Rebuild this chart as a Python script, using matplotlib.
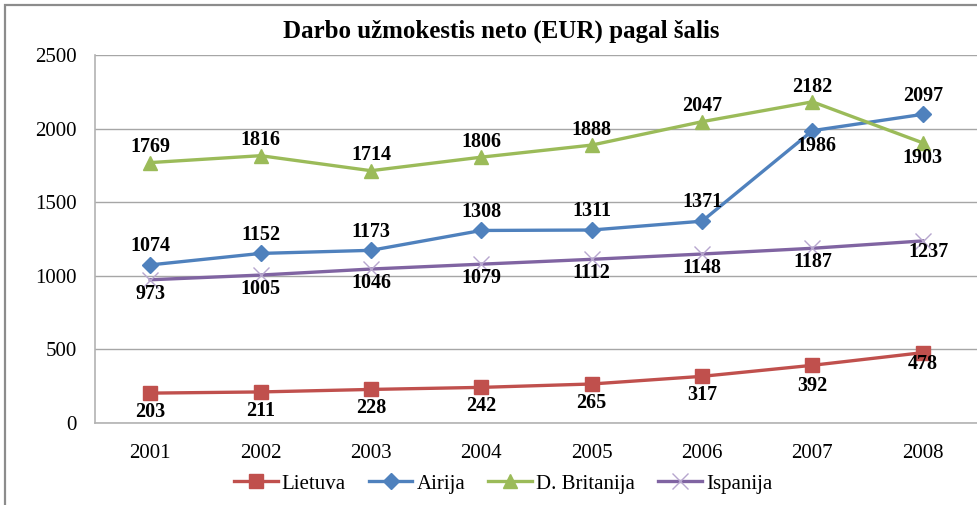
import matplotlib
matplotlib.use("Agg")
import matplotlib.pyplot as plt
from matplotlib.patches import Rectangle

plt.rcParams['font.family'] = ['Liberation Serif', 'DejaVu Serif']

years = ['2001', '2002', '2003', '2004', '2005', '2006', '2007', '2008']
lietuva = [203, 211, 228, 242, 265, 317, 392, 478]
airija = [1074, 1152, 1173, 1308, 1311, 1371, 1986, 2097]
britanija = [1769, 1816, 1714, 1806, 1888, 2047, 2182, 1903]
ispanija = [973, 1005, 1046, 1079, 1112, 1148, 1187, 1237]
series_names = ['Lietuva', 'Airija', 'D. Britanija', 'Ispanija']
y_ticks = [0, 500, 1000, 1500, 2000, 2500]

W, H = 978, 505
fig = plt.figure(figsize=(W / 100, H / 100), dpi=100)

# outer chart frame
fig.patches.append(Rectangle((5 / W, -0.1), 1.2, 1.1 - 5 / H,
                             transform=fig.transFigure, fill=False,
                             edgecolor='#8c8c8c', linewidth=1.6, zorder=0))

ax = fig.add_axes([95 / W, 1 - 423 / H, (W - 95) / W, (423 - 55) / H])
x = list(range(len(years)))

styles = [
    dict(color='#C0504D', marker='s', markersize=10, mfc='#C0504D', mec='#C0504D'),
    dict(color='#4F81BD', marker='D', markersize=8, mfc='#4F81BD', mec='#4F81BD'),
    dict(color='#9BBB59', marker='^', markersize=10, mfc='#9BBB59', mec='#9BBB59'),
    dict(color='#8064A2', marker='x', markersize=11, mfc='none', mec='#B7A6CE', mew=1.0),
]
data = [lietuva, airija, britanija, ispanija]

for vals, name, st in zip(data, series_names, styles):
    ax.plot(x, vals, label=name, linewidth=2.4, zorder=3, clip_on=False, **st)

# data labels: vertical offset in points per series (+ above, - below)
label_dy = [-13.5, 13.5, 11, -10]
special = {(1, 6): (3, -11), (2, 7): (0, -11), (3, 7): (4, -8), (0, 7): (0, -8),
           (0, 6): (0, -15)}
for si, vals in enumerate(data):
    for i, v in enumerate(vals):
        dx, dy = special.get((si, i), (0, label_dy[si]))
        ax.annotate(str(v), (i, v), xytext=(dx, dy), textcoords='offset points',
                    ha='center', va='center', fontsize=14.5, fontweight='bold',
                    color='black', zorder=5)

ax.set_xlim(-0.5, len(years) - 0.5)
ax.set_ylim(0, 2500)
ax.set_yticks(y_ticks)
ax.set_yticklabels([str(t) for t in y_ticks])
ax.set_xticks(x)
ax.set_xticklabels(years)
ax.tick_params(axis='both', length=0, labelsize=15, colors='black')
ax.tick_params(axis='y', pad=13)
ax.tick_params(axis='x', pad=15)
ax.grid(axis='y', color='#a6a6a6', linewidth=1.0)
ax.set_axisbelow(True)
for s in ['top', 'right']:
    ax.spines[s].set_visible(False)
for s in ['left', 'bottom']:
    ax.spines[s].set_color('#b3b3b3')
    ax.spines[s].set_linewidth(1.2)

fig.text(0.513, 1 - 31 / H, 'Darbo užmokestis neto (EUR) pagal šalis',
         ha='center', va='center', fontsize=18, fontweight='bold')

fig.legend(loc='center', bbox_to_anchor=(503 / W, 1 - 484 / H), ncol=4,
           frameon=False, fontsize=15, handlelength=2.1, handletextpad=0.2,
           columnspacing=1.1, borderaxespad=0)

fig.savefig('out.png', dpi=100)
